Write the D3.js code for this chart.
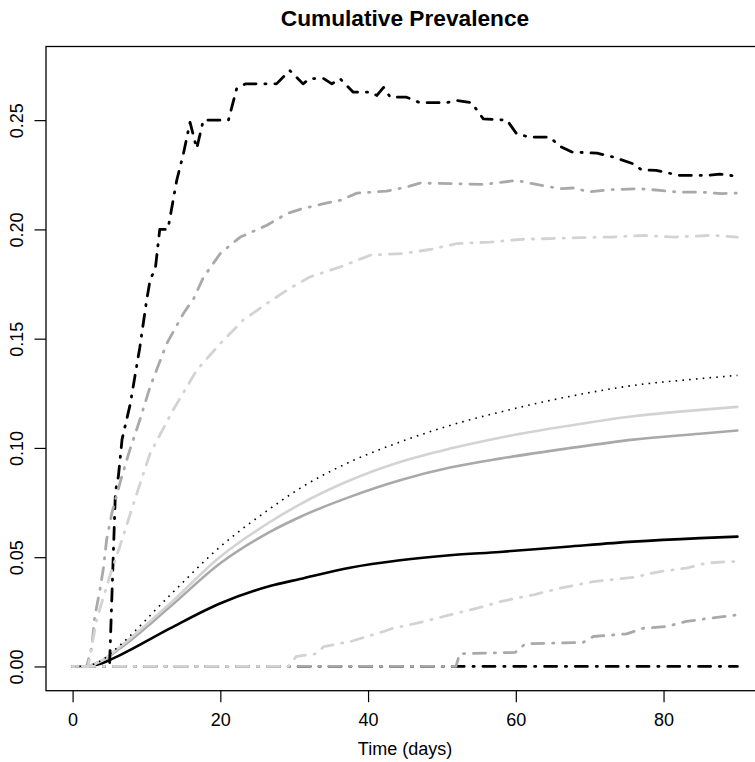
<!DOCTYPE html>
<html>
<head>
<meta charset="utf-8">
<script src="https://cdn.jsdelivr.net/npm/d3@7"></script>
<style>
  body { margin: 0; background: white; }
  svg { display: block; font-family: "Liberation Sans", Arial, sans-serif; }
</style>
</head>
<body>
<svg id="chart" width="755" height="762"></svg>
<script>
// tick labels
const xTicks = [0, 20, 40, 60, 80];
const yTicks = [0, 0.05, 0.10, 0.15, 0.20, 0.25];

// empirical curves, [day, prevalence]
const blackHigh = [[0,0],[5,0],[5.8,0.08],[6.2,0.087],[6.7,0.104],[7.8,0.12],[9.1,0.146],[10,0.167],[10.5,0.177],[11.2,0.182],[11.8,0.2],[12.9,0.2],[14.1,0.2225],[15,0.2346],[15.9,0.249],[16.8,0.237],[17.7,0.25],[21.1,0.25],[22.2,0.2643],[23.4,0.2666],[27.6,0.2666],[29.4,0.2727],[31.2,0.2666],[32.1,0.269],[34,0.269],[35.1,0.2666],[36.2,0.269],[38,0.2628],[40.3,0.2628],[41.2,0.2613],[42.1,0.265],[43,0.2605],[45.2,0.2605],[47,0.258],[50.6,0.258],[52,0.259],[54,0.258],[55.6,0.2506],[58.8,0.25],[60.1,0.2438],[61.9,0.2422],[64.6,0.2422],[66,0.238],[67.6,0.2354],[71,0.2349],[73.2,0.2331],[75.9,0.23],[77,0.2273],[79,0.227],[82.2,0.2247],[86,0.2247],[87.6,0.2253],[90,0.2243]];
const darkHigh = [[0,0],[1.9,0],[2.6,0.009],[3,0.0227],[3.7,0.035],[4.2,0.0456],[4.6,0.0578],[5.3,0.07],[6.5,0.085],[7.6,0.0975],[9.1,0.1128],[10.5,0.128],[12.75,0.1478],[15,0.1615],[16.4,0.1684],[17.7,0.178],[20,0.189],[22.7,0.1965],[26.3,0.2019],[29,0.2072],[30.8,0.2092],[34,0.2118],[36.2,0.2133],[38.5,0.2166],[42.5,0.2175],[45.2,0.2194],[47,0.2212],[52,0.2209],[55.6,0.2206],[60.1,0.2224],[62.8,0.2206],[66,0.2186],[68,0.219],[69.8,0.2171],[72.8,0.2182],[76.8,0.2186],[79.5,0.2179],[82.2,0.217],[84.9,0.2171],[87.9,0.2164],[90,0.2166]];
const lightHigh = [[0,0],[2.1,0],[3.3,0.022],[5.1,0.042],[6.4,0.055],[8.7,0.0792],[10.5,0.0975],[13.6,0.1173],[16.8,0.1356],[20,0.1478],[23.1,0.1585],[26.3,0.1661],[29.4,0.173],[32.1,0.1782],[36.2,0.1828],[40.3,0.1882],[44.8,0.189],[48.4,0.1908],[52,0.1935],[56.5,0.1942],[61,0.1955],[64.6,0.1958],[68.7,0.1962],[73,0.1965],[77.3,0.1972],[81.5,0.1965],[86.7,0.1973],[90,0.1965]];
const lightLow = [[0,0],[29.2,0],[30.3,0.0046],[33,0.0058],[34,0.0091],[37.6,0.0114],[42.1,0.016],[43.4,0.0175],[46.6,0.0198],[51.1,0.0236],[55.6,0.0274],[57.9,0.0297],[62.4,0.0328],[66,0.0358],[70.5,0.0388],[75.9,0.0408],[79.5,0.0434],[83.1,0.045],[85.8,0.0473],[89,0.048],[90,0.048]];
const darkLow = [[0,0],[51.9,0],[52.4,0.0058],[59.9,0.0064],[61.3,0.0104],[69.1,0.011],[70.5,0.0137],[75,0.0149],[77.3,0.0175],[80.4,0.0183],[83.1,0.0206],[86.3,0.0221],[90,0.0236]];
const blackZero = [[0,0],[90,0]];

// model curves
const dottedModel = [[0,0],[2,0.0003],[4,0.003],[6.43,0.0098],[13.19,0.0326],[19.95,0.0547],[26.72,0.0722],[30.78,0.0815],[37.55,0.0936],[44.32,0.1027],[51.09,0.1103],[57.86,0.1164],[66.89,0.1233],[75.9,0.1286],[84.93,0.1317],[90,0.1332]];
const lightModel = [[0,0],[2,0.0002],[4,0.0028],[6.43,0.009],[13.19,0.0288],[19.95,0.0501],[26.72,0.0661],[30.78,0.0742],[37.55,0.0852],[44.32,0.0936],[51.09,0.0997],[57.86,0.1047],[66.89,0.11],[75.9,0.1145],[84.93,0.1174],[90,0.1188]];
const darkModel = [[0,0],[2,0.0002],[4,0.0027],[6.43,0.0083],[13.19,0.0273],[19.95,0.0471],[26.72,0.0616],[30.78,0.0684],[37.55,0.0776],[44.32,0.0852],[51.09,0.091],[57.86,0.0951],[66.89,0.0997],[75.9,0.1038],[84.93,0.1065],[90,0.108]];
const blackModel = [[0,0],[2,0.0001],[4,0.0015],[6.43,0.0052],[13.19,0.0174],[19.95,0.0288],[26.72,0.0368],[30.78,0.04],[37.55,0.0452],[44.32,0.0486],[51.09,0.0509],[57.86,0.0524],[66.89,0.0548],[75.9,0.0571],[84.93,0.0587],[90,0.0594]];

const darkgray = "#a9a9a9", lightgray = "#d3d3d3";
const dotdash = "1.2 8.8 12 8.8";

const svg = d3.select("#chart");
const plot = { left: 46, right: 764, top: 46.5, bottom: 690.7 };

const x = d3.scaleLinear().domain([-3.6, 93.6]).range([plot.left, plot.right]);
const y = d3.scaleLinear().domain([-0.0111, 0.2837]).range([plot.bottom, plot.top]);

const lineLinear = d3.line().x(d => x(d[0])).y(d => y(d[1]));
const lineSmooth = d3.line().x(d => x(d[0])).y(d => y(d[1])).curve(d3.curveMonotoneX);

const series = [
    { data: blackModel, gen: lineSmooth, color: "#000", width: 2.6, dash: null },
    { data: darkModel, gen: lineSmooth, color: darkgray, width: 2.6, dash: null },
    { data: lightModel, gen: lineSmooth, color: lightgray, width: 2.6, dash: null },
    { data: dottedModel, gen: lineSmooth, color: "#000", width: 1.6, dash: "1.6 5.2", cap: "butt" },
    { data: blackZero, gen: lineLinear, color: "#000", width: 2.8, dash: dotdash },
    { data: blackHigh, gen: lineLinear, color: "#000", width: 2.8, dash: dotdash },
    { data: darkLow, gen: lineLinear, color: darkgray, width: 2.8, dash: dotdash },
    { data: darkHigh, gen: lineLinear, color: darkgray, width: 2.8, dash: dotdash },
    { data: lightLow, gen: lineLinear, color: lightgray, width: 2.8, dash: dotdash },
    { data: lightHigh, gen: lineLinear, color: lightgray, width: 2.8, dash: dotdash }
];

svg.selectAll("path.series")
    .data(series)
    .join("path")
    .classed("series", true)
    .attr("d", d => d.gen(d.data))
    .attr("fill", "none")
    .attr("stroke", d => d.color)
    .attr("stroke-width", d => d.width)
    .attr("stroke-dasharray", d => d.dash)
    .attr("stroke-linecap", d => d.cap || "round")
    .attr("stroke-linejoin", "round");

// box
svg.append("rect")
    .attr("x", plot.left)
    .attr("y", plot.top)
    .attr("width", plot.right - plot.left)
    .attr("height", plot.bottom - plot.top)
    .attr("fill", "none")
    .attr("stroke", "#000")
    .attr("stroke-width", 1.3);

const xAxis = svg.append("g")
    .attr("transform", `translate(0, ${plot.bottom})`)
    .call(d3.axisBottom(x).tickValues(xTicks).tickSize(11.5).tickFormat(d3.format("d")));
xAxis.select(".domain").remove();
xAxis.selectAll("line").attr("stroke", "#000").attr("stroke-width", 1.2);
xAxis.selectAll("text")
    .attr("y", 35.8)
    .attr("dy", null)
    .attr("fill", "#000")
    .style("font-size", "18px")
    .style("font-family", "Liberation Sans, Arial, sans-serif");

const yAxis = svg.append("g")
    .attr("transform", `translate(${plot.left}, 0)`)
    .call(d3.axisLeft(y).tickValues(yTicks).tickSize(11.5).tickFormat(d3.format(".2f")));
yAxis.select(".domain").remove();
yAxis.selectAll("line").attr("stroke", "#000").attr("stroke-width", 1.2);
yAxis.selectAll("text")
    .attr("x", null)
    .attr("dy", null)
    .attr("text-anchor", "middle")
    .attr("transform", "translate(-23.5, 0) rotate(-90)")
    .attr("fill", "#000")
    .style("font-size", "18px")
    .style("font-family", "Liberation Sans, Arial, sans-serif");

svg.append("text")
    .attr("x", (plot.left + plot.right) / 2)
    .attr("y", 26)
    .attr("text-anchor", "middle")
    .style("font-size", "22.7px")
    .style("font-weight", "bold")
    .text("Cumulative Prevalence");

svg.append("text")
    .attr("x", (plot.left + plot.right) / 2)
    .attr("y", 755)
    .attr("text-anchor", "middle")
    .style("font-size", "18px")
    .text("Time (days)");
</script>
</body>
</html>
